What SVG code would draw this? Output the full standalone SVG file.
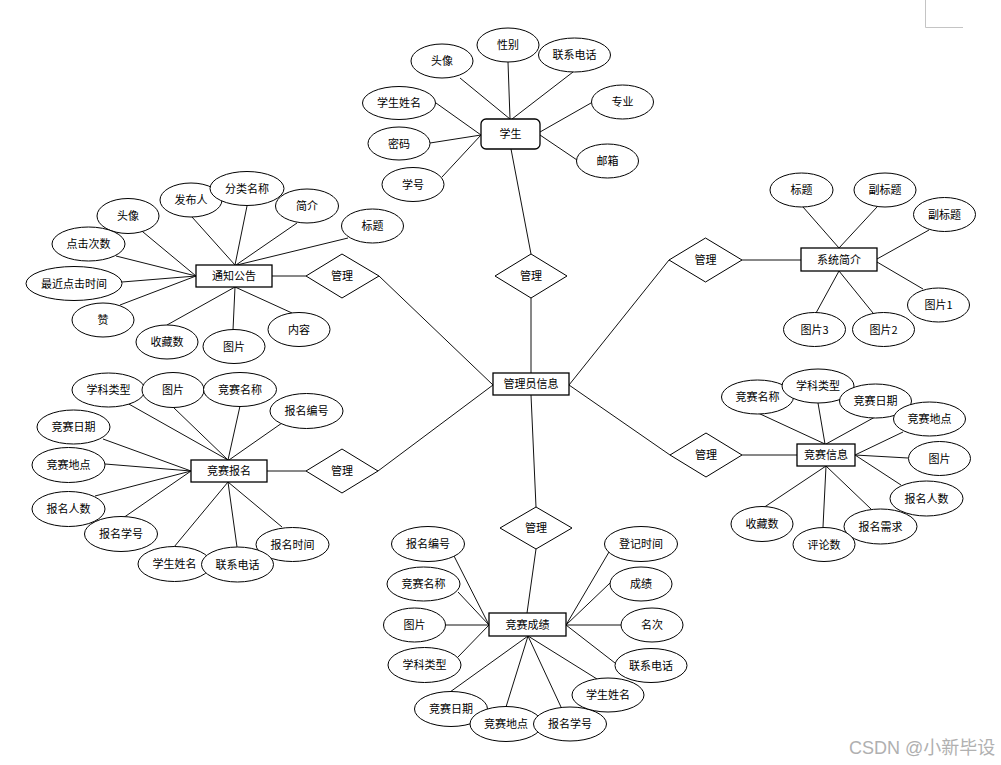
<svg xmlns="http://www.w3.org/2000/svg" width="1001" height="765" viewBox="0 0 1001 765">
<style>
.e{fill:#fff;stroke:#000;stroke-width:1}
.r{fill:#fff;stroke:#000;stroke-width:1.3}
.d{fill:#fff;stroke:#000;stroke-width:1}
#connectors line{stroke:#111;stroke-width:1}
text{font-family:"Noto Sans CJK SC","Liberation Sans",sans-serif;font-size:11px;text-anchor:middle;fill:#000}
.wm{font-family:"Liberation Sans","Noto Sans CJK SC",sans-serif;font-size:18px;fill:#b0b0b0;text-anchor:start}
</style>
<rect width="1001" height="765" fill="#fff"/>
<path d="M925.5 0V27.5H963" fill="none" stroke="#c4c4c4" stroke-width="1"/>
<g id="connectors">
<!-- student -->
<line x1="460" y1="78" x2="510" y2="119"/>
<line x1="508" y1="62" x2="510" y2="119"/>
<line x1="573" y1="72" x2="512" y2="119"/>
<line x1="436" y1="103" x2="481" y2="135"/>
<line x1="430" y1="143" x2="481" y2="135"/>
<line x1="442" y1="177" x2="481" y2="135"/>
<line x1="591" y1="103" x2="540" y2="132"/>
<line x1="577" y1="160" x2="540" y2="135"/>
<line x1="511" y1="149" x2="531" y2="254"/>
<line x1="531" y1="298" x2="531" y2="373"/>
<!-- admin to diamonds -->
<line x1="493" y1="385" x2="379" y2="276"/>
<line x1="493" y1="385" x2="378" y2="471"/>
<line x1="569" y1="385" x2="669" y2="260"/>
<line x1="569" y1="385" x2="670" y2="455"/>
<line x1="531" y1="395" x2="536" y2="507"/>
<!-- notice -->
<line x1="272" y1="276" x2="306" y2="276"/>
<line x1="137" y1="227" x2="196" y2="276"/>
<line x1="116" y1="256" x2="196" y2="276"/>
<line x1="122" y1="282" x2="196" y2="276"/>
<line x1="120" y1="305" x2="196" y2="276"/>
<line x1="192" y1="217" x2="235" y2="265"/>
<line x1="247" y1="206" x2="235" y2="265"/>
<line x1="297" y1="223" x2="236" y2="265"/>
<line x1="348" y1="238" x2="237" y2="265"/>
<line x1="167" y1="325" x2="235" y2="287"/>
<line x1="233" y1="330" x2="235" y2="287"/>
<line x1="292" y1="313" x2="235" y2="287"/>
<!-- signup -->
<line x1="267" y1="471" x2="306" y2="471"/>
<line x1="127" y1="403" x2="228" y2="460"/>
<line x1="173" y1="407" x2="228" y2="460"/>
<line x1="240" y1="406" x2="228" y2="460"/>
<line x1="282" y1="423" x2="229" y2="460"/>
<line x1="103" y1="439" x2="191" y2="471"/>
<line x1="105" y1="464" x2="191" y2="471"/>
<line x1="95" y1="496" x2="191" y2="471"/>
<line x1="123" y1="518" x2="191" y2="471"/>
<line x1="174" y1="547" x2="228" y2="482"/>
<line x1="237" y1="547" x2="228" y2="482"/>
<line x1="282" y1="527" x2="228" y2="482"/>
<!-- system intro -->
<line x1="742" y1="260" x2="801" y2="260"/>
<line x1="803" y1="207" x2="839" y2="248"/>
<line x1="877" y1="207" x2="839" y2="248"/>
<line x1="929" y1="230" x2="877" y2="259"/>
<line x1="923" y1="289" x2="877" y2="262"/>
<line x1="873" y1="313" x2="839" y2="271"/>
<line x1="816" y1="313" x2="839" y2="271"/>
<!-- competition info -->
<line x1="742" y1="455" x2="797" y2="455"/>
<line x1="758" y1="413" x2="825" y2="444"/>
<line x1="818" y1="403" x2="825" y2="444"/>
<line x1="875" y1="417" x2="826" y2="444"/>
<line x1="903" y1="432" x2="855" y2="455"/>
<line x1="908" y1="458" x2="855" y2="455"/>
<line x1="901" y1="485" x2="855" y2="455"/>
<line x1="871" y1="509" x2="826" y2="466"/>
<line x1="823" y1="527" x2="826" y2="466"/>
<line x1="763" y1="508" x2="826" y2="466"/>
<!-- results -->
<line x1="536" y1="549" x2="527" y2="613"/>
<line x1="454" y1="556" x2="489" y2="625"/>
<line x1="458" y1="592" x2="489" y2="625"/>
<line x1="446" y1="625" x2="489" y2="625"/>
<line x1="458" y1="657" x2="489" y2="625"/>
<line x1="450" y1="692" x2="528" y2="636"/>
<line x1="506" y1="707" x2="528" y2="636"/>
<line x1="561" y1="707" x2="528" y2="636"/>
<line x1="597" y1="679" x2="528" y2="636"/>
<line x1="615" y1="663" x2="566" y2="625"/>
<line x1="621" y1="625" x2="566" y2="625"/>
<line x1="610" y1="583" x2="566" y2="625"/>
<line x1="609" y1="552" x2="566" y2="625"/>
</g>

<!-- Student entity -->
<g id="student"><rect class="r" x="481" y="119" width="59" height="30" rx="5"/><text x="510.5" y="138">学生</text></g>
<g id="student-avatar"><ellipse class="e" cx="442" cy="61" rx="31" ry="17"/><text x="442" y="65">头像</text></g>
<g id="student-gender"><ellipse class="e" cx="508" cy="45" rx="31" ry="17"/><text x="508" y="49">性别</text></g>
<g id="student-phone"><ellipse class="e" cx="574.5" cy="55" rx="36" ry="17"/><text x="574.5" y="59">联系电话</text></g>
<g id="student-name"><ellipse class="e" cx="399" cy="103" rx="36.5" ry="16.5"/><text x="399" y="107">学生姓名</text></g>
<g id="student-password"><ellipse class="e" cx="399" cy="143.5" rx="31" ry="16.5"/><text x="399" y="147.5">密码</text></g>
<g id="student-id"><ellipse class="e" cx="413" cy="184.5" rx="31" ry="17"/><text x="413" y="188.5">学号</text></g>
<g id="student-major"><ellipse class="e" cx="622.5" cy="102" rx="31" ry="17"/><text x="622.5" y="106">专业</text></g>
<g id="student-email"><ellipse class="e" cx="607.5" cy="161" rx="31" ry="17"/><text x="607.5" y="165">邮箱</text></g>
<g id="rel-student"><polygon class="d" points="495,276 531,254 567,276 531,298"/><text x="531" y="280">管理</text></g>

<!-- Admin -->
<g id="admin"><rect class="r" x="493" y="373" width="76" height="22"/><text x="531" y="388">管理员信息</text></g>

<!-- Notice -->
<g id="notice"><rect class="r" x="196" y="265" width="76" height="22"/><text x="234" y="280">通知公告</text></g>
<g id="rel-notice"><polygon class="d" points="306,276 342,254 379,276 342,298"/><text x="342" y="280">管理</text></g>
<g id="notice-avatar"><ellipse class="e" cx="128" cy="216" rx="31" ry="17.5"/><text x="128" y="220">头像</text></g>
<g id="notice-publisher"><ellipse class="e" cx="191" cy="200" rx="31" ry="17"/><text x="191" y="204">发布人</text></g>
<g id="notice-category"><ellipse class="e" cx="247" cy="188.5" rx="37" ry="17"/><text x="247" y="192.5">分类名称</text></g>
<g id="notice-intro"><ellipse class="e" cx="307" cy="206" rx="31.5" ry="17"/><text x="307" y="210">简介</text></g>
<g id="notice-title"><ellipse class="e" cx="372.5" cy="226" rx="31" ry="17"/><text x="372.5" y="230">标题</text></g>
<g id="notice-clicks"><ellipse class="e" cx="88.5" cy="244" rx="36.5" ry="17"/><text x="88.5" y="248">点击次数</text></g>
<g id="notice-lastclick"><ellipse class="e" cx="74" cy="283.5" rx="48" ry="17"/><text x="74" y="287.5">最近点击时间</text></g>
<g id="notice-like"><ellipse class="e" cx="103" cy="320" rx="31" ry="17"/><text x="103" y="324">赞</text></g>
<g id="notice-favs"><ellipse class="e" cx="167" cy="342" rx="31" ry="17"/><text x="167" y="346">收藏数</text></g>
<g id="notice-image"><ellipse class="e" cx="234" cy="346.5" rx="31" ry="17"/><text x="234" y="350.5">图片</text></g>
<g id="notice-content"><ellipse class="e" cx="299" cy="329.5" rx="31" ry="17"/><text x="299" y="333.5">内容</text></g>

<!-- Signup -->
<g id="signup"><rect class="r" x="191" y="460" width="76" height="22"/><text x="229" y="475">竞赛报名</text></g>
<g id="rel-signup"><polygon class="d" points="306,471 342,449 378,471 342,493"/><text x="342" y="475">管理</text></g>
<g id="signup-subject"><ellipse class="e" cx="108.5" cy="390" rx="36.5" ry="17"/><text x="108.5" y="394">学科类型</text></g>
<g id="signup-image"><ellipse class="e" cx="173" cy="390" rx="31" ry="17.5"/><text x="173" y="394">图片</text></g>
<g id="signup-compname"><ellipse class="e" cx="240" cy="389.5" rx="36.5" ry="17"/><text x="240" y="393.5">竞赛名称</text></g>
<g id="signup-no"><ellipse class="e" cx="306.5" cy="411" rx="36.5" ry="17.5"/><text x="306.5" y="415">报名编号</text></g>
<g id="signup-date"><ellipse class="e" cx="73.5" cy="427" rx="36.5" ry="17"/><text x="73.5" y="431">竞赛日期</text></g>
<g id="signup-place"><ellipse class="e" cx="68.5" cy="465" rx="36.5" ry="17.5"/><text x="68.5" y="469">竞赛地点</text></g>
<g id="signup-count"><ellipse class="e" cx="68.5" cy="509" rx="36.5" ry="17.5"/><text x="68.5" y="513">报名人数</text></g>
<g id="signup-stuid"><ellipse class="e" cx="121" cy="534" rx="36.5" ry="17.5"/><text x="121" y="538">报名学号</text></g>
<g id="signup-stuname"><ellipse class="e" cx="174.5" cy="564" rx="36.5" ry="17.5"/><text x="174.5" y="568">学生姓名</text></g>
<g id="signup-time"><ellipse class="e" cx="292.5" cy="544.5" rx="36.5" ry="17"/><text x="292.5" y="548.5">报名时间</text></g>
<g id="signup-phone"><ellipse class="e" cx="237.5" cy="564.5" rx="36" ry="17.5"/><text x="237.5" y="568.5">联系电话</text></g>

<!-- System intro -->
<g id="sysintro"><rect class="r" x="801" y="248" width="76" height="23"/><text x="839" y="263.5">系统简介</text></g>
<g id="rel-sysintro"><polygon class="d" points="669,260 705.5,238 742,260 705.5,282"/><text x="705.5" y="264">管理</text></g>
<g id="sys-title"><ellipse class="e" cx="801.5" cy="190" rx="31.5" ry="17"/><text x="801.5" y="194">标题</text></g>
<g id="sys-subtitle1"><ellipse class="e" cx="885" cy="190" rx="31" ry="17"/><text x="885" y="194">副标题</text></g>
<g id="sys-subtitle2"><ellipse class="e" cx="944.5" cy="214.5" rx="31" ry="17"/><text x="944.5" y="218.5">副标题</text></g>
<g id="sys-image1"><ellipse class="e" cx="938.5" cy="305" rx="31" ry="17"/><text x="938.5" y="309">图片1</text></g>
<g id="sys-image2"><ellipse class="e" cx="883.5" cy="329.5" rx="31" ry="17"/><text x="883.5" y="333.5">图片2</text></g>
<g id="sys-image3"><ellipse class="e" cx="814.5" cy="329.5" rx="31" ry="17"/><text x="814.5" y="333.5">图片3</text></g>

<!-- Competition info -->
<g id="compinfo"><rect class="r" x="797" y="444" width="58" height="22"/><text x="826" y="459">竞赛信息</text></g>
<g id="rel-compinfo"><polygon class="d" points="670,455 706,433 742,455 706,477"/><text x="706" y="459">管理</text></g>
<g id="ci-name"><ellipse class="e" cx="757.5" cy="397" rx="36" ry="17"/><text x="757.5" y="401">竞赛名称</text></g>
<g id="ci-subject"><ellipse class="e" cx="818" cy="386" rx="36" ry="17"/><text x="818" y="390">学科类型</text></g>
<g id="ci-date"><ellipse class="e" cx="875.5" cy="401" rx="36" ry="17"/><text x="875.5" y="405">竞赛日期</text></g>
<g id="ci-place"><ellipse class="e" cx="929.5" cy="419" rx="36" ry="17"/><text x="929.5" y="423">竞赛地点</text></g>
<g id="ci-image"><ellipse class="e" cx="939.5" cy="458.5" rx="31" ry="17"/><text x="939.5" y="462.5">图片</text></g>
<g id="ci-count"><ellipse class="e" cx="926.5" cy="498.5" rx="36.5" ry="17.5"/><text x="926.5" y="502.5">报名人数</text></g>
<g id="ci-need"><ellipse class="e" cx="880.5" cy="526.5" rx="36.5" ry="17.5"/><text x="880.5" y="530.5">报名需求</text></g>
<g id="ci-comments"><ellipse class="e" cx="824" cy="544.5" rx="31" ry="17"/><text x="824" y="548.5">评论数</text></g>
<g id="ci-favs"><ellipse class="e" cx="762" cy="524" rx="31" ry="17.5"/><text x="762" y="528">收藏数</text></g>

<!-- Results -->
<g id="results"><rect class="r" x="489" y="613" width="77" height="23"/><text x="527.5" y="628.5">竞赛成绩</text></g>
<g id="rel-results"><polygon class="d" points="500,528 536,507 572,528 536,549"/><text x="536" y="532">管理</text></g>
<g id="res-no"><ellipse class="e" cx="428" cy="544" rx="36.5" ry="17.5"/><text x="428" y="548">报名编号</text></g>
<g id="res-name"><ellipse class="e" cx="423.5" cy="584" rx="36.5" ry="17"/><text x="423.5" y="588">竞赛名称</text></g>
<g id="res-image"><ellipse class="e" cx="414.5" cy="625" rx="31" ry="17"/><text x="414.5" y="629">图片</text></g>
<g id="res-subject"><ellipse class="e" cx="424.5" cy="665" rx="36.5" ry="17.5"/><text x="424.5" y="669">学科类型</text></g>
<g id="res-date"><ellipse class="e" cx="451" cy="709" rx="36.5" ry="17.5"/><text x="451" y="713">竞赛日期</text></g>
<g id="res-place"><ellipse class="e" cx="506" cy="724" rx="36" ry="17.5"/><text x="506" y="728">竞赛地点</text></g>
<g id="res-stuid"><ellipse class="e" cx="570" cy="724" rx="36.5" ry="17"/><text x="570" y="728">报名学号</text></g>
<g id="res-stuname"><ellipse class="e" cx="608" cy="695" rx="36" ry="17"/><text x="608" y="699">学生姓名</text></g>
<g id="res-phone"><ellipse class="e" cx="651" cy="665.5" rx="36" ry="17"/><text x="651" y="669.5">联系电话</text></g>
<g id="res-rank"><ellipse class="e" cx="652" cy="625" rx="31" ry="17"/><text x="652" y="629">名次</text></g>
<g id="res-score"><ellipse class="e" cx="641" cy="584" rx="31" ry="17"/><text x="641" y="588">成绩</text></g>
<g id="res-regtime"><ellipse class="e" cx="641" cy="544" rx="36.5" ry="17.5"/><text x="641" y="548">登记时间</text></g>

<text class="wm" x="849" y="753.5">CSDN @小新毕设</text>
</svg>
